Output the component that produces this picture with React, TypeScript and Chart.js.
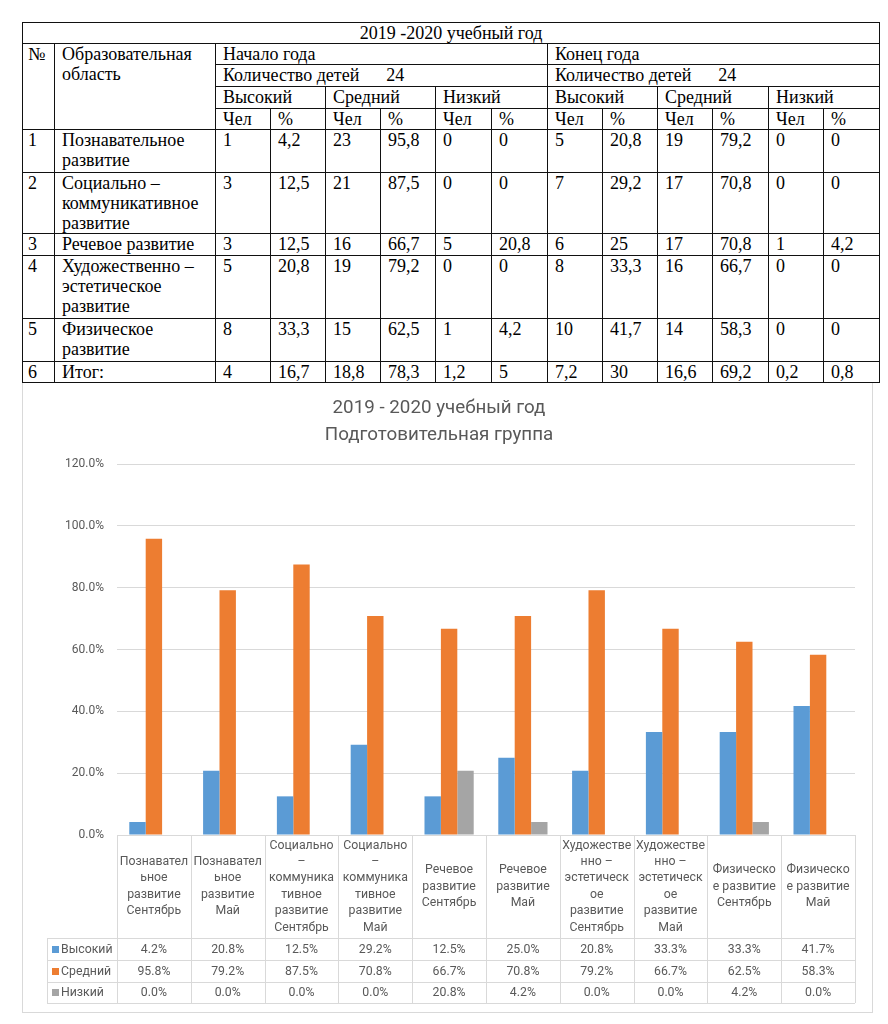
import React, { useEffect, useRef } from 'react';
import { Chart, registerables } from 'chart.js';

Chart.register(...registerables);

// ---------- Document table data ----------
const TABLE_TITLE = '2019 -2020 учебный год';
const HEAD_NUMBER = '№';
const HEAD_AREA = 'Образовательная область';
const PERIODS = ['Начало года', 'Конец года'];
const CHILDREN_LABEL = 'Количество детей';
const CHILDREN_COUNT = ['24', '24'];
const LEVELS = ['Высокий', 'Средний', 'Низкий'];
const SUBCOLS = ['Чел', '%'];

const ROW_NUMBERS = ['1', '2', '3', '4', '5', '6'];
const ROW_AREAS = [
  'Познавательное развитие',
  'Социально – коммуникативное развитие',
  'Речевое развитие',
  'Художественно – эстетическое развитие',
  'Физическое развитие',
  'Итог:',
];
const ROW_1 = ['1', '4,2', '23', '95,8', '0', '0', '5', '20,8', '19', '79,2', '0', '0'];
const ROW_2 = ['3', '12,5', '21', '87,5', '0', '0', '7', '29,2', '17', '70,8', '0', '0'];
const ROW_3 = ['3', '12,5', '16', '66,7', '5', '20,8', '6', '25', '17', '70,8', '1', '4,2'];
const ROW_4 = ['5', '20,8', '19', '79,2', '0', '0', '8', '33,3', '16', '66,7', '0', '0'];
const ROW_5 = ['8', '33,3', '15', '62,5', '1', '4,2', '10', '41,7', '14', '58,3', '0', '0'];
const ROW_6 = ['4', '16,7', '18,8', '78,3', '1,2', '5', '7,2', '30', '16,6', '69,2', '0,2', '0,8'];
const TABLE_ROWS = [ROW_1, ROW_2, ROW_3, ROW_4, ROW_5, ROW_6];

// ---------- Chart data ----------
const CHART_TITLE = ['2019 - 2020 учебный год', 'Подготовительная группа'];
const CATEGORIES: string[][] = [
  ['Познавател', 'ьное', 'развитие', 'Сентябрь'],
  ['Познавател', 'ьное', 'развитие', 'Май'],
  ['Социально', '–', 'коммуника', 'тивное', 'развитие', 'Сентябрь'],
  ['Социально', '–', 'коммуника', 'тивное', 'развитие', 'Май'],
  ['Речевое', 'развитие', 'Сентябрь'],
  ['Речевое', 'развитие', 'Май'],
  ['Художестве', 'нно –', 'эстетическ', 'ое', 'развитие', 'Сентябрь'],
  ['Художестве', 'нно –', 'эстетическ', 'ое', 'развитие', 'Май'],
  ['Физическо', 'е развитие', 'Сентябрь'],
  ['Физическо', 'е развитие', 'Май'],
];
const SERIES_NAMES = ['Высокий', 'Средний', 'Низкий'];
const HIGH = [4.2, 20.8, 12.5, 29.2, 12.5, 25.0, 20.8, 33.3, 33.3, 41.7];
const MEDIUM = [95.8, 79.2, 87.5, 70.8, 66.7, 70.8, 79.2, 66.7, 62.5, 58.3];
const LOW = [0.0, 0.0, 0.0, 0.0, 20.8, 4.2, 0.0, 0.0, 4.2, 0.0];
const SERIES_COLORS = ['#5B9BD5', '#ED7D31', '#A5A5A5'];
const Y_MIN = 0;
const Y_MAX = 120;
const Y_STEP = 20;

const TEXT = '#595959';
const GRID = '#D9D9D9';
const FONT = 'Roboto';

const fmt = (v: number) => v.toFixed(1) + '%';

const dataTablePlugin = {
  id: 'dataTable',
  afterDraw(chart: any) {
    const { ctx, chartArea } = chart;
    const xs = chart.scales.x;
    const n = chart.data.labels.length;
    const step = xs.getPixelForValue(1) - xs.getPixelForValue(0);
    const top = chartArea.bottom;
    const labelH = 103;
    const rowHs = [22, 22, 21];
    const rowTops = [top + labelH, top + labelH + rowHs[0], top + labelH + rowHs[0] + rowHs[1]];
    const bottom = rowTops[2] + rowHs[2];
    const legendLeft = chartArea.left - 70;
    const left = xs.getPixelForValue(0) - step / 2;
    const right = xs.getPixelForValue(n - 1) + step / 2;
    const r = (v: number) => Math.round(v) + 0.5;

    ctx.save();
    ctx.strokeStyle = GRID;
    ctx.lineWidth = 1;
    ctx.beginPath();
    ctx.moveTo(left, r(top));
    ctx.lineTo(right, r(top));
    for (let k = 0; k < 3; k++) {
      ctx.moveTo(legendLeft, r(rowTops[k]));
      ctx.lineTo(right, r(rowTops[k]));
    }
    ctx.moveTo(legendLeft, r(bottom));
    ctx.lineTo(right, r(bottom));
    ctx.moveTo(r(legendLeft), rowTops[0]);
    ctx.lineTo(r(legendLeft), bottom);
    for (let i = 0; i <= n; i++) {
      const px = r(left + i * step);
      ctx.moveTo(px, top);
      ctx.lineTo(px, bottom);
    }
    ctx.stroke();

    ctx.fillStyle = TEXT;
    ctx.font = `12.3px ${FONT}`;
    ctx.textAlign = 'center';
    ctx.textBaseline = 'middle';
    const lh = 16.4;
    for (let i = 0; i < n; i++) {
      const cx = xs.getPixelForValue(i);
      const lines: string[] = chart.data.labels[i];
      const cy = top + labelH / 2 - ((lines.length - 1) / 2) * lh;
      lines.forEach((t, j) => ctx.fillText(t, cx, cy + j * lh));
      chart.data.datasets.forEach((ds: any, d: number) => {
        ctx.fillText(fmt(ds.data[i]), cx, rowTops[d] + rowHs[d] / 2 + 0.5);
      });
    }
    chart.data.datasets.forEach((ds: any, d: number) => {
      const cy = rowTops[d] + rowHs[d] / 2;
      ctx.fillStyle = ds.backgroundColor;
      ctx.fillRect(legendLeft + 5, Math.round(cy - 3.5), 7, 7);
      ctx.fillStyle = TEXT;
      ctx.textAlign = 'left';
      ctx.fillText(ds.label, legendLeft + 14, cy + 0.5);
    });
    ctx.restore();
  },
};

function ChartBox() {
  const ref = useRef<HTMLCanvasElement>(null);
  useEffect(() => {
    if (!ref.current) return;
    const chart = new Chart(ref.current, {
      type: 'bar',
      data: {
        labels: CATEGORIES as any,
        datasets: [HIGH, MEDIUM, LOW].map((data, i) => ({
          label: SERIES_NAMES[i],
          data,
          backgroundColor: SERIES_COLORS[i],
          borderWidth: 0,
          categoryPercentage: 0.667,
          barPercentage: 1,
        })),
      },
      options: {
        animation: false,
        responsive: false,
        devicePixelRatio: 1,
        layout: { padding: { left: 0, right: 17, top: 0, bottom: 177 } },
        plugins: {
          legend: { display: false },
          tooltip: { enabled: false },
          title: {
            display: true,
            text: CHART_TITLE,
            color: TEXT,
            font: { family: FONT, size: 18.8, weight: 'normal', lineHeight: '27px' } as any,
            padding: { top: 12, bottom: 15 },
          },
        },
        scales: {
          x: { display: false },
          y: {
            min: Y_MIN,
            max: Y_MAX,
            ticks: {
              stepSize: Y_STEP,
              callback: (v: any) => fmt(Number(v)),
              color: TEXT,
              font: { family: FONT, size: 12 },
              padding: 13,
            },
            grid: { color: GRID, drawTicks: false },
            border: { display: false },
            afterFit: (s: any) => {
              s.width = 94;
            },
          },
        },
      } as any,
      plugins: [dataTablePlugin],
    });
    return () => chart.destroy();
  }, []);
  return (
    <div
      style={{
        position: 'absolute',
        left: 22,
        top: 383,
        width: 849,
        height: 629,
        border: `1px solid ${GRID}`,
        borderTop: 'none',
        background: '#fff',
      }}
    >
      <canvas ref={ref} width={849} height={629} style={{ display: 'block' }} />
    </div>
  );
}

const COL_WIDTHS = [32, 161, 55, 55, 55, 55, 56, 56, 55, 55, 55, 56, 55, 56];
const HEAD_HEIGHTS = [21, 21, 22, 22, 21];
const ROW_HEIGHTS = [43, 61, 22, 63, 43, 21];

const td: React.CSSProperties = {
  border: '1px solid #111',
  padding: '0 7px',
  verticalAlign: 'top',
  textAlign: 'left',
  overflow: 'hidden',
};

function DocTable() {
  return (
    <table
      style={{
        position: 'absolute',
        left: 22,
        top: 22,
        width: 857,
        borderCollapse: 'collapse',
        tableLayout: 'fixed',
        fontFamily: '"Liberation Serif", "Times New Roman", serif',
        fontSize: 18,
        lineHeight: '20px',
        color: '#000',
      }}
    >
      <colgroup>
        {COL_WIDTHS.map((w, i) => (
          <col key={i} style={{ width: w }} />
        ))}
      </colgroup>
      <tbody>
        <tr style={{ height: HEAD_HEIGHTS[0] }}>
          <td colSpan={14} style={{ ...td, textAlign: 'center' }}>
            {TABLE_TITLE}
          </td>
        </tr>
        <tr style={{ height: HEAD_HEIGHTS[1] }}>
          <td rowSpan={4} style={{ ...td, padding: '0 5px' }}>
            {HEAD_NUMBER}
          </td>
          <td rowSpan={4} style={td}>
            {HEAD_AREA}
          </td>
          {PERIODS.map((p) => (
            <td key={p} colSpan={6} style={td}>
              {p}
            </td>
          ))}
        </tr>
        <tr style={{ height: HEAD_HEIGHTS[2] }}>
          {CHILDREN_COUNT.map((c, i) => (
            <td key={i} colSpan={6} style={{ ...td, whiteSpace: 'pre' }}>
              {CHILDREN_LABEL + '      ' + c}
            </td>
          ))}
        </tr>
        <tr style={{ height: HEAD_HEIGHTS[3] }}>
          {[...LEVELS, ...LEVELS].map((l, i) => (
            <td key={i} colSpan={2} style={td}>
              {l}
            </td>
          ))}
        </tr>
        <tr style={{ height: HEAD_HEIGHTS[4] }}>
          {Array.from({ length: 6 }).flatMap((_, i) =>
            SUBCOLS.map((s, j) => (
              <td key={i + '-' + j} style={td}>
                {s}
              </td>
            ))
          )}
        </tr>
        {TABLE_ROWS.map((row, r) => (
          <tr key={r} style={{ height: ROW_HEIGHTS[r] }}>
            <td style={{ ...td, padding: '0 5px' }}>{ROW_NUMBERS[r]}</td>
            <td style={td}>{ROW_AREAS[r]}</td>
            {row.map((v, c) => (
              <td key={c} style={td}>
                {v}
              </td>
            ))}
          </tr>
        ))}
      </tbody>
    </table>
  );
}

export default function App() {
  return (
    <div style={{ width: 872, height: 1008 }}>
      <DocTable />
      <ChartBox />
    </div>
  );
}
